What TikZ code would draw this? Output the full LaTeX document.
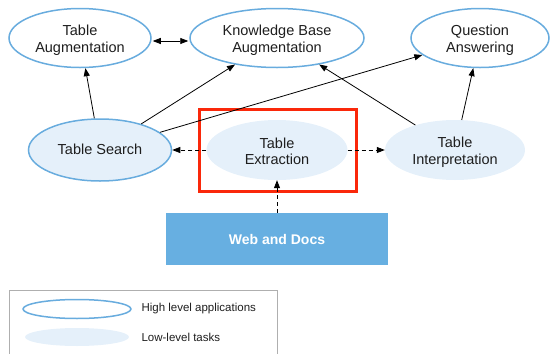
\documentclass[tikz,border=0pt]{standalone}
\usepackage{fontspec}
\setmainfont{Liberation Sans}
\usetikzlibrary{shapes.geometric,arrows.meta}
\definecolor{edgeblue}{RGB}{104,172,222}
\definecolor{paleblue}{RGB}{229,240,250}
\definecolor{webblue}{RGB}{103,175,225}
\definecolor{boxred}{RGB}{250,40,10}
\definecolor{legendgray}{RGB}{175,175,175}
\definecolor{textdark}{RGB}{30,30,30}
\tikzset{
  x=1pt, y=-1pt,
  highapp/.style={ellipse, draw=edgeblue, line width=1.5pt, fill=white, inner sep=0pt},
  lowtask/.style={ellipse, fill=paleblue, inner sep=0pt},
  both/.style={highapp, fill=paleblue},
  caption/.style={align=center, inner sep=0pt, text=textdark,
    font=\fontsize{14.5}{16.5}\selectfont},
  tip/.tip={Triangle[length=8pt,width=6pt]},
  link/.style={line width=0.8pt, -tip},
  twoway/.style={line width=0.8pt, tip-tip},
  dashlink/.style={link, dash pattern=on 4pt off 3pt},
  legtext/.style={anchor=west, font=\fontsize{11.5}{13}\selectfont, text=textdark}
}
\begin{document}
\begin{tikzpicture}
\useasboundingbox (0,0) rectangle (550,354);

% upper row: applications
\node[highapp, minimum width=142pt, minimum height=59pt] (ta) at (80,38) {};
\node[highapp, minimum width=174pt, minimum height=59pt] (kb) at (277,38) {};
\node[highapp, minimum width=138pt, minimum height=59pt] (qa) at (480,38) {};

% middle row: tasks
\node[both, minimum width=143pt, minimum height=62pt] (ts) at (100,150) {};
\node[lowtask, minimum width=141pt, minimum height=60pt] (te) at (277,150) {};
\node[lowtask, minimum width=140pt, minimum height=60pt] (ti) at (455,150) {};

% labels inside the ellipses
\node[caption] (ta-t) at ([yshift=-2pt]ta.center) {Table\\Augmentation};
\node[caption] (kb-t) at ([yshift=-2pt]kb.center) {Knowledge Base\\Augmentation};
\node[caption] (qa-t) at ([yshift=-2pt]qa.center) {Question\\Answering};
\node[caption] (ts-t) at ([yshift=1pt]ts.center) {Table Search};
\node[caption] (te-t) at ([yshift=-1.5pt]te.center) {Table\\Extraction};
\node[caption] (ti-t) at ([yshift=-2pt]ti.center) {Table\\Interpretation};

% highlight frame around the extraction task
\node[draw=boxred, line width=3pt, minimum width=157pt, minimum height=82pt, inner sep=0pt] (hl) at (277.5,150) {};

% source data
\node[fill=webblue, minimum width=222pt, minimum height=52pt, inner sep=0pt,
  text=white, font=\bfseries\fontsize{14}{16}\selectfont] (wd) at (277,239) {Web and Docs};

% connectors
\draw[twoway, shorten <=1pt, shorten >=1pt] (ta.east |- 0,41) -- (kb.west |- 0,41);
\draw[link] (ts) -- (ta);
\draw[link] (ts) -- (kb);
\draw[link] (ts) -- (qa);
\draw[link] (ti) -- (kb);
\draw[link] (ti) -- (qa);
\draw[dashlink] (te) -- (ts);
\draw[dashlink] (te) -- (ti);
\draw[dashlink] (wd) -- (te);

% legend
\draw[legendgray, line width=0.8pt] (9,356) -- (9,290) -- (277,290) -- (277,356);
\node[highapp, minimum width=108pt, minimum height=19pt] (lh) at (77,309) {};
\node[lowtask, minimum width=104pt, minimum height=18pt] (ll) at (77,337) {};
\node[legtext] (lht) at (138,309) {High level applications};
\node[legtext] (llt) at (138,337) {Low-level tasks};
\end{tikzpicture}
\end{document}
